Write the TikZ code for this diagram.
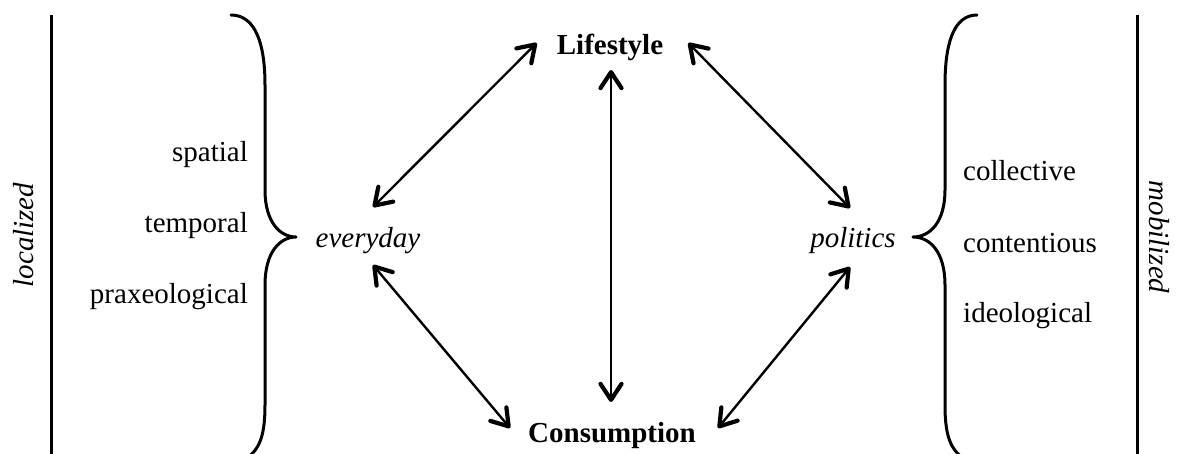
\documentclass[tikz,border=0pt]{standalone}
\usepackage{fontspec}
\setmainfont{Liberation Serif}
\usetikzlibrary{arrows.meta,calc}
\tikzset{
  lbl/.style={font=\fontsize{29}{34}\selectfont, inner sep=0pt},
  ital/.style={lbl, font=\fontsize{29}{34}\selectfont\itshape},
  bld/.style={lbl, font=\fontsize{29}{34}\selectfont\bfseries},
  barb/.tip={Straight Barb[length=16pt,width=21pt,line width=1.8pt 1,round]},
  arr/.style={line width=2.4pt, barb-barb},
  bracepath/.style={line width=3pt, line cap=round, line join=round},
  sideline/.style={line width=3pt}
}
\begin{document}
\begin{tikzpicture}[x=1pt,y=-1pt]
\useasboundingbox (0,0) rectangle (1179,453);
% main nodes
\node[bld, anchor=base] (L) at (610,54) {Lifestyle};
\node[bld, anchor=base] (C) at (612,442) {Consumption};
\node[ital, anchor=base] (E) at (368,247) {everyday};
\node[ital, anchor=base] (P) at (853,247) {politics};
% side labels
\node[lbl, anchor=base east] (sp) at (248,161) {spatial};
\node[lbl, anchor=base east] (te) at (248,232) {temporal};
\node[lbl, anchor=base east] (pr) at (248,303) {praxeological};
\node[lbl, anchor=base west] (co) at (963,180) {collective};
\node[lbl, anchor=base west] (ct) at (963,252) {contentious};
\node[lbl, anchor=base west] (id) at (963,322) {ideological};
\node[ital, anchor=base, rotate=90] (loc) at (33,235) {localized};
\node[ital, anchor=base, rotate=-90] (mob) at (1149,237) {mobilized};
% vertical lines
\draw[sideline] (51,15) -- (51,460);
\draw[sideline] (1137,15) -- (1137,460);
% braces
\draw[bracepath] (231,15) .. controls (256,15) and (265,45) .. (265,85) -- (265,190)
  .. controls (265,222) and (280,237) .. (296,237)
  .. controls (280,237) and (265,252) .. (265,285) -- (265,405)
  .. controls (265,440) and (258,453) .. (240,462);
\draw[bracepath] (977,15) .. controls (953,15) and (945,45) .. (945,85) -- (945,190)
  .. controls (945,222) and (930,237) .. (913,237)
  .. controls (930,237) and (945,252) .. (945,285) -- (945,405)
  .. controls (945,440) and (952,453) .. (970,462);
% arrows
\draw[arr] ($(E.base)+(5,-40)$) -- ($(L.base west)+(-20,-11)$);
\draw[arr] ($(L.base east)+(25,-11)$) -- ($(P.base)+(-3,-39)$);
\draw[arr] ($(E.base)+(5,18)$) -- ($(C.base west)+(-18,-14)$);
\draw[arr] ($(P.base)+(-3,20)$) -- ($(C.base east)+(22,-14)$);
\draw[arr] ($(L.base)+(1,16)$) -- ($(C.base)+(-1,-40)$);
\end{tikzpicture}
\end{document}
